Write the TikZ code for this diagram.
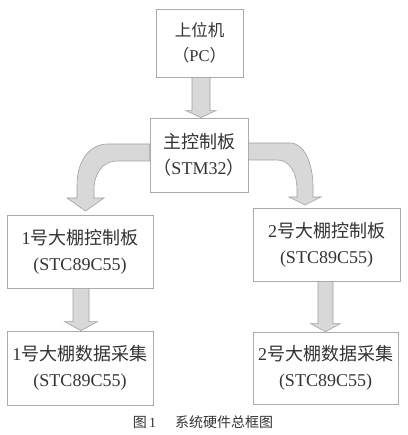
\documentclass[tikz,border=0pt]{standalone}
\usepackage{fontspec}
\setmainfont{Liberation Serif}
\newfontfamily\lat{Liberation Serif}
\newfontfamily\cjk{Noto Sans CJK SC}
\usetikzlibrary{calc}
\definecolor{boxline}{HTML}{ABABAB}
\definecolor{txt}{HTML}{333333}
\definecolor{arrfill}{HTML}{D8D8D8}
\definecolor{arrline}{HTML}{A0A0A0}
\tikzset{
  boxnode/.style={draw=boxline, line width=0.8pt, align=center, text=txt, inner sep=0pt,
    font=\lat\fontsize{18}{26}\selectfont},
  blockarrow/.style={fill=arrfill, draw=arrline, line width=0.6pt, line join=miter},
}
\newcommand\vblock[6]{%
  \path[blockarrow] let \p1=(#1.south), \p2=(#2.north) in
   ({#3pt-#4pt},\y1) -- ({#3pt+#4pt},\y1) -- ({#3pt+#4pt},{\y2+#6pt})
   -- ({#3pt+#5pt},{\y2+#6pt}) -- (#3pt,\y2) -- ({#3pt-#5pt},{\y2+#6pt})
   -- ({#3pt-#4pt},{\y2+#6pt}) -- cycle;}
\begin{document}
\begin{tikzpicture}[x=1pt,y=1pt]
\fill[white] (0,0) rectangle (407,435);
\useasboundingbox (0,0) rectangle (407,435);

\node[boxnode, minimum width=87pt, minimum height=68pt, font=\lat\fontsize{16.5}{25}\selectfont]
  (pc) at (199.5,392) {{\cjk 上位机}\\{\cjk （}PC{\cjk ）}};
\node[boxnode, minimum width=98pt, minimum height=74pt]
  (stm) at (199,280) {{\cjk 主控制板}\\{\cjk （}STM32{\cjk ）}};
\node[boxnode, minimum width=146pt, minimum height=73pt]
  (c1) at (80,183.5) {1{\cjk 号大棚控制板}\\(STC89C55)};
\node[boxnode, minimum width=147pt, minimum height=73pt]
  (c2) at (326.5,190.5) {2{\cjk 号大棚控制板}\\(STC89C55)};
\node[boxnode, minimum width=146pt, minimum height=74pt]
  (d1) at (80,67) {1{\cjk 号大棚数据采集}\\(STC89C55)};
\node[boxnode, minimum width=145pt, minimum height=72pt]
  (d2) at (325.5,67) {2{\cjk 号大棚数据采集}\\(STC89C55)};
\node[text=txt, font=\lat\fontsize{14}{16}\selectfont, inner sep=0pt]
  (cap) at (203,13) {{\cjk 图}\,1\hspace{19pt}{\cjk 系统硬件总框图}};

% straight block arrows
\vblock{pc}{stm}{201}{9}{15}{7}
\vblock{c1}{d1}{81}{8}{16.5}{9}
\vblock{c2}{d2}{325.5}{7.5}{15}{8}

% curved block arrows
\path[blockarrow] (stm.west |- 0,291) -- (108,291)
  .. controls (90,291) and (77,275) .. (77,250) -- (77,237) -- (67,237)
  -- (85.5,224) -- (104,237) -- (94,237) -- (94,245)
  .. controls (94,262) and (103,274) .. (117,274) -- (stm.west |- 0,274) -- cycle;
\path[blockarrow] (stm.east |- 0,292) -- (290,292)
  .. controls (305,292) and (313,270) .. (313,248) -- (313,238) -- (321,238)
  -- (305,230) -- (289,238) -- (297,238) -- (297,245)
  .. controls (297,262) and (290,275) .. (277,275) -- (stm.east |- 0,275) -- cycle;
\end{tikzpicture}
\end{document}
